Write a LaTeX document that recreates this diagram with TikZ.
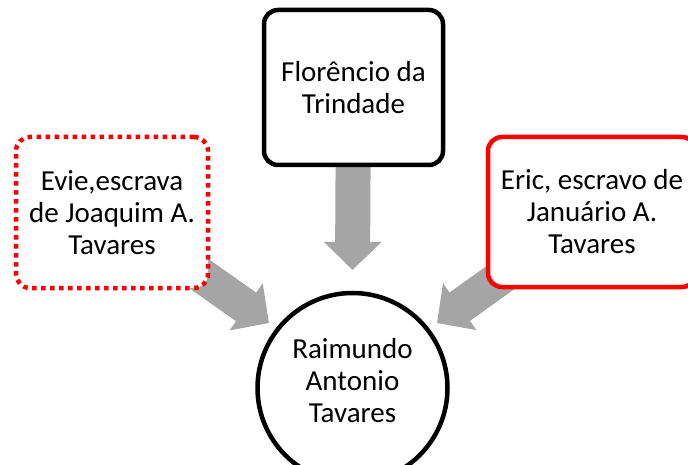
\documentclass[tikz,border=0pt]{standalone}
\usepackage{fontspec}
\setmainfont{Carlito}
\usetikzlibrary{arrows.meta,backgrounds}
\definecolor{arrowgray}{HTML}{A5A5A5}
\definecolor{boxred}{HTML}{FF0000}
\tikzset{
  person/.style={draw, fill=white, line width=4.5pt, rounded corners=14pt, align=center,
    font=\fontsize{29pt}{32pt}\selectfont, inner sep=0pt},
  dottedbox/.style={person, draw=boxred, line width=4.5pt, rounded corners=14pt,
    dash pattern=on 4.5pt off 4.5pt},
  redbox/.style={person, draw=boxred},
  childcircle/.style={draw, fill=white, circle, line width=4.5pt, align=center,
    font=\fontsize{29pt}{32pt}\selectfont, inner sep=0pt},
  blockarrow/.style={draw=arrowgray, line width=35pt,
    -{Triangle[length=28pt,width=56pt,color=arrowgray]}}
}
\begin{document}
\begin{tikzpicture}[x=1pt,y=-1pt]
\useasboundingbox (0,0) rectangle (688,465);
\clip (0,0) rectangle (688,465);
\node[person, minimum width=179pt, minimum height=155pt] (T) at (353.5,87.5) {Florêncio da\\Trindade};
\node[dottedbox, minimum width=192pt, minimum height=151pt] (L) at (112,212.5) {Evie,escrava\\de Joaquim A.\\Tavares};
\node[redbox, minimum width=208pt, minimum height=150pt] (R) at (592,212) {Eric, escravo de\\Januário A.\\Tavares};
\node[childcircle, minimum size=190pt, text depth=16pt] (C) at (352.5,388) {Raimundo\\Antonio\\Tavares};
\coordinate (tipT) at (352.5,270);
\coordinate (tipL) at (269,323);
\coordinate (tipR) at (437,323);
\begin{scope}[on background layer]
\draw[blockarrow] (T.center) -- (tipT);
\draw[blockarrow] (L.center) -- (tipL);
\draw[blockarrow] (R.center) -- (tipR);
\end{scope}
\end{tikzpicture}
\end{document}
